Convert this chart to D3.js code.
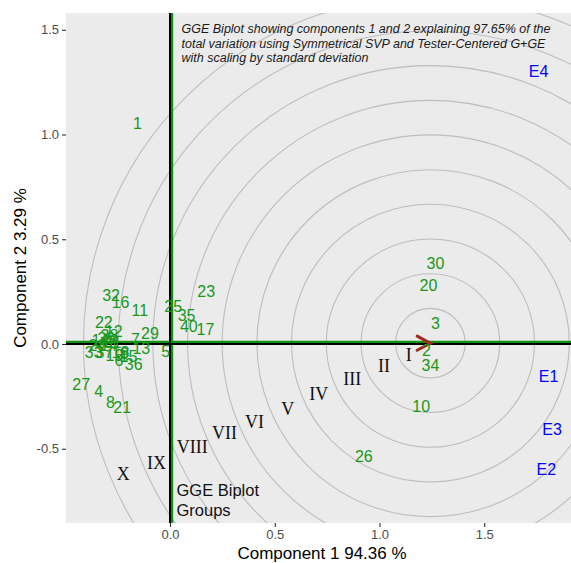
<!DOCTYPE html>
<html>
<head>
<meta charset="utf-8">
<script src="https://cdn.jsdelivr.net/npm/d3@7"></script>
<style>
  html, body { margin: 0; padding: 0; background: #ffffff; }
  svg { display: block; }
  text { font-family: "Liberation Sans", Arial, sans-serif; }
</style>
</head>
<body>
<svg id="chart" width="571" height="563"></svg>
<script>
// ---- data ----
const genotypes = ["1","2","3","4","5","6","7","8","9","10","11","12","13","14","15","16","17","18","19","20",
                   "21","22","23","24","25","26","27","28","29","30","31","32","33","34","35","36","37","38","39","40"];
const genX = [-0.155, 1.224, 1.267, -0.340, -0.021, -0.244, -0.165, -0.284, -0.217, 1.199,
              -0.144, -0.268, -0.137, -0.332, -0.198, -0.236, 0.169, -0.236, -0.265, 1.234,
              -0.228, -0.316, 0.173, -0.294, 0.015, 0.925, -0.424, -0.346, -0.096, 1.267,
              -0.274, -0.281, -0.364, 1.243, 0.079, -0.173, -0.313, -0.289, -0.303, 0.090];
const genY = [1.053, -0.030, 0.098, -0.229, -0.038, -0.081, 0.021, -0.281, -0.044, -0.297,
              0.158, 0.058, -0.021, 0.018, -0.058, 0.198, 0.069, -0.039, -0.053, 0.281,
              -0.303, 0.101, 0.249, -0.006, 0.177, -0.539, -0.193, -0.006, 0.050, 0.386,
              0.009, 0.233, -0.042, -0.101, 0.137, -0.098, -0.039, 0.042, 0.028, 0.082];

const environments = ["E1", "E2", "E3", "E4"];
const envX = [1.807, 1.796, 1.824, 1.759];
const envY = [-0.157, -0.599, -0.408, 1.302];

const idealPoint = [1.243, 0.004];
const ringRadii = [0.166, 0.331, 0.497, 0.663, 0.828, 0.994, 1.159, 1.325, 1.490, 1.656];

const groupLabels = ["I","II","III","IV","V","VI","VII","VIII","IX","X"];
const groupX = [1.140, 1.021, 0.870, 0.710, 0.562, 0.403, 0.260, 0.106, -0.064, -0.223];
const groupY = [-0.053, -0.106, -0.169, -0.240, -0.308, -0.372, -0.427, -0.494, -0.568, -0.621];

const groupsTitle = ["GGE Biplot", "Groups"];
const groupsTitlePos = [0.031, -0.700];

const titleLines = [
  "GGE Biplot showing components 1 and 2 explaining 97.65% of the",
  "total variation using Symmetrical SVP and Tester-Centered G+GE",
  "with scaling by standard deviation"
];
const titlePos = [0.055, 1.483];

const xTicks = [0, 0.5, 1.0, 1.5];
const yTicks = [-0.5, 0, 0.5, 1.0, 1.5];
const xTitle = "Component 1 94.36 %";
const yTitle = "Component 2 3.29 %";

// ---- layout ----
const panel = { left: 66, right: 571, top: 13, bottom: 523 };
const x = d3.scaleLinear().domain([-0.4964, 1.9141]).range([panel.left, panel.right]);
const y = d3.scaleLinear().domain([-0.8544, 1.5800]).range([panel.bottom, panel.top]);
const pxPerUnit = x(1) - x(0);

const svg = d3.select("#chart");
svg.append("defs").append("clipPath").attr("id", "clip")
  .append("rect")
  .attr("x", panel.left).attr("y", panel.top)
  .attr("width", panel.right - panel.left).attr("height", panel.bottom - panel.top);

svg.append("rect")
  .attr("x", panel.left).attr("y", panel.top)
  .attr("width", panel.right - panel.left).attr("height", panel.bottom - panel.top)
  .attr("fill", "#ebebeb");

const plot = svg.append("g").attr("clip-path", "url(#clip)");

// rings
plot.selectAll("circle.ring").data(ringRadii).join("circle")
  .attr("class", "ring")
  .attr("cx", x(idealPoint[0])).attr("cy", y(idealPoint[1]))
  .attr("r", d => d * pxPerUnit)
  .attr("fill", "none").attr("stroke", "#bdbdbd").attr("stroke-width", 1.1);

// green ATC lines (drawn slightly offset from the axes)
const green = "#109010";
plot.append("line")
  .attr("x1", panel.left).attr("x2", panel.right)
  .attr("y1", y(0) - 2).attr("y2", y(0) - 2)
  .attr("stroke", green).attr("stroke-width", 2.4);
plot.append("line")
  .attr("x1", x(0) + 2).attr("x2", x(0) + 2)
  .attr("y1", panel.top).attr("y2", panel.bottom)
  .attr("stroke", green).attr("stroke-width", 2.4);

// black axes lines
plot.append("line")
  .attr("x1", panel.left).attr("x2", panel.right)
  .attr("y1", y(0)).attr("y2", y(0))
  .attr("stroke", "#000").attr("stroke-width", 2);
plot.append("line")
  .attr("x1", x(0)).attr("x2", x(0))
  .attr("y1", panel.top).attr("y2", panel.bottom)
  .attr("stroke", "#000").attr("stroke-width", 2);

// arrow head at ideal point
const tipX = x(idealPoint[0]), tipY = y(idealPoint[1]);
const armLen = 15, armAng = 28 * Math.PI / 180;
plot.append("path")
  .attr("d", `M${tipX - armLen * Math.cos(armAng)},${tipY - armLen * Math.sin(armAng)} L${tipX},${tipY} L${tipX - armLen * Math.cos(armAng)},${tipY + armLen * Math.sin(armAng)}`)
  .attr("fill", "none").attr("stroke", "#9e2a20").attr("stroke-width", 3).attr("stroke-linecap", "round");

// group labels (roman numerals)
plot.selectAll("text.grp").data(groupLabels).join("text")
  .attr("class", "grp")
  .attr("x", (d, i) => x(groupX[i])).attr("y", (d, i) => y(groupY[i]))
  .attr("text-anchor", "middle").attr("dominant-baseline", "central")
  .style("font-family", "'Liberation Serif', 'Times New Roman', serif")
  .attr("font-size", 18).attr("fill", "#111")
  .text(d => d);

// groups title
plot.append("text")
  .attr("x", x(groupsTitlePos[0])).attr("y", y(groupsTitlePos[1]))
  .attr("font-size", 16.5).attr("fill", "#111")
  .selectAll("tspan").data(groupsTitle).join("tspan")
  .attr("x", x(groupsTitlePos[0]))
  .attr("dy", (d, i) => i === 0 ? "0.35em" : 19.5)
  .text(d => d);

// genotype labels
plot.selectAll("text.gen").data(genotypes).join("text")
  .attr("class", "gen")
  .attr("x", (d, i) => x(genX[i])).attr("y", (d, i) => y(genY[i]))
  .attr("text-anchor", "middle").attr("dominant-baseline", "central")
  .attr("font-size", 16).attr("fill", "#18981a")
  .text(d => d);

// environment labels
plot.selectAll("text.env").data(environments).join("text")
  .attr("class", "env")
  .attr("x", (d, i) => x(envX[i])).attr("y", (d, i) => y(envY[i]))
  .attr("text-anchor", "middle").attr("dominant-baseline", "central")
  .attr("font-size", 16).attr("fill", "#0000ff")
  .text(d => d);

// title annotation
plot.append("text")
  .attr("x", x(titlePos[0])).attr("y", y(titlePos[1]))
  .attr("font-size", 12.5).attr("font-style", "italic").attr("fill", "#1a1a1a")
  .selectAll("tspan").data(titleLines).join("tspan")
  .attr("x", x(titlePos[0]))
  .attr("dy", (d, i) => i === 0 ? 0 : 14.5)
  .text(d => d);

// axes
const fmt = d => d3.format(".1f")(d).replace("\u2212", "-");
const xAxis = svg.append("g").attr("transform", `translate(0,${panel.bottom})`)
  .call(d3.axisBottom(x).tickValues(xTicks).tickFormat(fmt).tickSize(4).tickPadding(3));
const yAxis = svg.append("g").attr("transform", `translate(${panel.left},0)`)
  .call(d3.axisLeft(y).tickValues(yTicks).tickFormat(fmt).tickSize(4).tickPadding(3));
[xAxis, yAxis].forEach(a => {
  a.select(".domain").remove();
  a.selectAll(".tick line").attr("stroke", "#333").attr("stroke-width", 1.1);
  a.selectAll(".tick text").attr("fill", "#4d4d4d").attr("font-size", 13)
    .style("font-family", "'Liberation Sans', Arial, sans-serif");
});

svg.append("text")
  .attr("x", 322).attr("y", 559)
  .attr("text-anchor", "middle").attr("font-size", 17).attr("fill", "#000")
  .text(xTitle);
svg.append("text")
  .attr("transform", `translate(26,${(panel.top + panel.bottom) / 2}) rotate(-90)`)
  .attr("text-anchor", "middle").attr("font-size", 17).attr("fill", "#000")
  .text(yTitle);
</script>
</body>
</html>
